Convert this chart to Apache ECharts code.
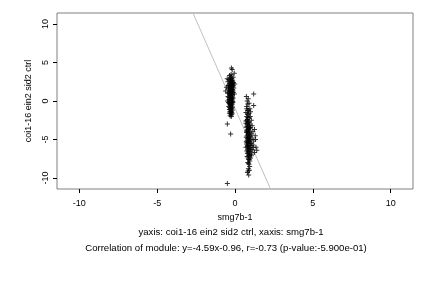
<!DOCTYPE html>
<html><head><meta charset="utf-8">
<script src="https://cdn.jsdelivr.net/npm/echarts@6/dist/echarts.min.js"></script>
<style>html,body{margin:0;padding:0;background:#fff}#c{width:432px;height:288px}</style>
</head><body><div id="c"></div>
<script>
const xTicks = [-10, -5, 0, 5, 10];
const yTicks = [-10, -5, 0, 5, 10];
const xLabel = 'smg7b-1';
const yLabel = 'coi1-16 ein2 sid2 ctrl';
const subLine1 = 'yaxis: coi1-16 ein2 sid2 ctrl, xaxis: smg7b-1';
const subLine2 = 'Correlation of module: y=-4.59x-0.96, r=-0.73 (p-value:-5.900e-01)';
const slope = -4.59;
const intercept = -0.96;
const lineX = [-3.2, 2.8];
const cluster1 = [[-0.23,4.3],[-0.18,4.1],[-0.35,3.3],[-0.25,3.2],[-0.12,3.1],[-0.30,3.0],[-0.20,2.9],[-0.40,2.8],[-0.15,2.7],[-0.28,2.6],[-0.45,2.5],[-0.22,2.5],[-0.10,2.4],[-0.33,2.3],[-0.18,2.2],[-0.38,2.1],[-0.26,2.0],[-0.12,2.0],[-0.30,1.9],[-0.55,1.8],[-0.20,1.8],[-0.42,1.7],[-0.08,1.7],[-0.32,1.6],[-0.24,1.5],[-0.15,1.5],[-0.36,1.4],[-0.27,1.3],[-0.60,1.3],[-0.19,1.2],[-0.40,1.1],[-0.11,1.1],[-0.30,1.0],[-0.22,0.9],[-0.35,0.8],[-0.16,0.8],[-0.28,0.7],[-0.45,0.6],[-0.20,0.5],[-0.33,0.4],[-0.12,0.4],[-0.25,0.3],[-0.38,0.2],[-0.18,0.1],[-0.30,0.0],[-0.22,-0.1],[-0.42,-0.2],[-0.14,-0.2],[-0.28,-0.3],[-0.35,-0.4],[-0.20,-0.5],[-0.26,-0.6],[-0.40,-0.7],[-0.16,-0.8],[-0.30,-0.9],[-0.23,-1.0],[-0.36,-1.1],[-0.18,-1.2],[-0.28,-1.3],[-0.33,-1.4],[-0.21,-1.5],[-0.26,-1.7],[-0.31,-1.9],[-0.24,-2.0],[-0.49,-3.0],[-0.28,-4.3],[-0.49,-10.7],[-0.05,3.6],[-0.02,2.2],[-0.50,2.9],[-0.04,0.9],[-0.48,0.0],
  [-0.27,2.85],[-0.17,2.55],[-0.31,2.35],[-0.21,2.15],[-0.35,1.95],[-0.14,1.85],[-0.26,1.65],[-0.37,1.55],[-0.20,1.35],[-0.30,1.25],[-0.13,1.3],[-0.24,1.05],[-0.34,0.95],[-0.18,0.65],[-0.27,0.55],[-0.39,0.45],[-0.22,0.25],[-0.31,0.15],[-0.15,-0.05],[-0.26,-0.15],[-0.37,-0.3],[-0.19,-0.35],[-0.31,-0.55],[-0.23,-0.75],[-0.34,-0.85],[-0.20,-1.05],[-0.29,-1.15],[-0.24,-1.35],[-0.19,-1.65],[-0.29,-1.55],[-0.22,-1.8],[-0.36,-1.6],[-0.25,3.45],[-0.32,2.7],[-0.14,2.3],[-0.44,2.0],[-0.23,1.7],[-0.29,1.45],[-0.46,1.0],[-0.17,0.3],[-0.33,-0.1]];
const cluster2 = [[0.73,0.6],[1.20,0.9],[0.85,0.3],[0.78,0.0],[1.20,-0.6],[0.90,-0.3],[0.75,-0.7],[0.95,-1.0],[0.80,-1.2],[0.70,-1.5],[1.00,-1.4],[0.85,-1.8],[0.75,-2.0],[0.92,-2.2],[0.80,-2.4],[1.05,-2.5],[0.70,-2.6],[0.88,-2.8],[0.95,-3.0],[0.78,-3.1],[1.10,-3.2],[0.85,-3.3],[0.72,-3.4],[1.00,-3.5],[0.90,-3.6],[1.25,-3.7],[0.80,-3.8],[0.95,-3.9],[1.15,-4.0],[0.75,-4.1],[0.88,-4.2],[1.05,-4.3],[0.82,-4.4],[1.30,-4.5],[0.95,-4.6],[0.72,-4.7],[1.10,-4.8],[0.85,-4.9],[1.00,-5.0],[0.78,-5.1],[1.20,-5.2],[0.92,-5.3],[0.83,-5.4],[1.05,-5.5],[0.74,-5.6],[1.15,-5.7],[0.90,-5.8],[0.80,-5.9],[1.35,-6.0],[0.98,-6.1],[0.86,-6.2],[1.10,-6.3],[1.40,-6.4],[0.76,-6.5],[0.95,-6.6],[1.25,-6.7],[0.84,-6.8],[1.05,-6.9],[0.92,-7.0],[0.78,-7.2],[1.00,-7.4],[0.88,-7.6],[0.95,-7.8],[0.82,-8.0],[0.90,-8.2],[0.86,-8.8],[0.92,-9.0],[0.80,-9.3],[0.88,-9.6],[0.70,-2.9],[0.74,-3.9],[0.72,-5.3],[0.70,-6.0],[1.32,-5.0],[1.18,-6.0],[0.98,-2.0],
  [0.82,-2.15],[0.76,-2.5],[0.86,-2.65],[0.81,-2.95],[0.92,-3.15],[0.77,-3.35],[0.87,-3.55],[0.95,-3.45],[0.82,-3.7],[0.78,-4.0],[0.92,-4.05],[0.84,-4.3],[0.98,-4.45],[0.77,-4.55],[0.89,-4.75],[0.80,-4.85],[0.93,-5.05],[0.86,-5.2],[0.78,-5.35],[0.97,-5.45],[0.88,-5.6],[0.81,-5.75],[1.02,-5.8],[0.85,-6.0],[0.92,-6.25],[0.80,-6.35],[1.02,-6.45],[0.88,-6.6],[0.79,-6.8],[0.96,-6.95],[0.86,-7.15],[1.05,-7.1],[0.84,-7.4],[0.92,-7.55],[0.86,-8.1],[0.94,-8.5],[0.84,-9.1],[0.76,-1.0],[0.82,-0.4],[0.87,-1.2],[0.79,-1.7],[0.90,-1.6]];

const F = 'Liberation Sans, Arial, Helvetica, sans-serif';
const plus = 'path://M4,0H6V4H10V6H6V10H4V6H0V4H4Z';
const chart = echarts.init(document.getElementById('c'), null, {renderer: 'canvas'});
chart.setOption({
  animation: false,
  backgroundColor: '#fff',
  grid: {left: 57, right: 19, top: 13, bottom: 99, show: true, borderColor: '#808080', borderWidth: 1, backgroundColor: 'transparent'},
  xAxis: {
    type: 'value', min: -11.43, max: 11.43,
    name: xLabel, nameLocation: 'middle', nameGap: 22,
    nameTextStyle: {fontFamily: F, fontSize: 9, color: '#000'},
    axisLine: {show: false, onZero: false},
    splitLine: {show: false},
    axisTick: {show: true, length: 4, customValues: xTicks, lineStyle: {color: '#000'}},
    axisLabel: {customValues: xTicks, fontFamily: F, fontSize: 9, color: '#000', margin: 10}
  },
  yAxis: {
    type: 'value', min: -11.43, max: 11.43,
    name: yLabel, nameLocation: 'middle', nameGap: 18,
    nameTextStyle: {fontFamily: F, fontSize: 9, color: '#000'},
    axisLine: {show: false, onZero: false},
    splitLine: {show: false},
    axisTick: {show: true, length: 4, customValues: yTicks, lineStyle: {color: '#000'}},
    axisLabel: {customValues: yTicks, rotate: 90, fontFamily: F, fontSize: 9, color: '#000', margin: 7}
  },
  graphic: [
    {type: 'text', x: 231, y: 232, style: {text: subLine1, font: '9.6px ' + F, fill: '#000', align: 'center', verticalAlign: 'middle'}},
    {type: 'text', x: 226, y: 248, style: {text: subLine2, font: '9.6px ' + F, fill: '#000', align: 'center', verticalAlign: 'middle'}}
  ],
  series: [
    {type: 'line', data: lineX.map(x => [x, slope * x + intercept]), showSymbol: false, symbol: 'none',
     lineStyle: {color: '#c0c0c0', width: 1}, clip: true, z: 1},
    {type: 'scatter', data: cluster1.concat(cluster2), symbol: plus, symbolSize: 5,
     itemStyle: {color: '#000'}, z: 2}
  ]
});
</script></body></html>
